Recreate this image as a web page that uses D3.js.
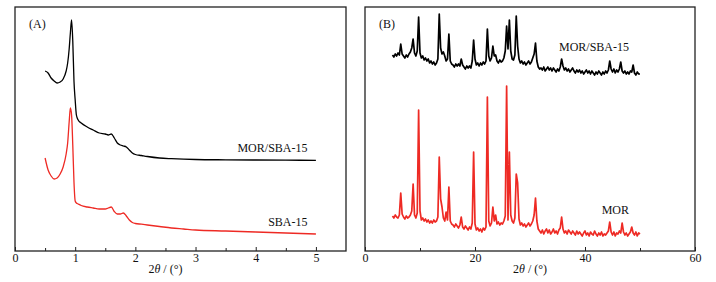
<!DOCTYPE html>
<html>
<head>
<meta charset="utf-8">
<script src="https://cdn.jsdelivr.net/npm/d3@7"></script>
<style>
  body { margin: 0; background: #fff; }
  svg { display: block; }
  text { font-family: "Liberation Serif", "Times New Roman", serif; font-size: 12px; fill: #111; }
  .axis path, .axis line { stroke: #222; }
  .axis text { font-family: "Liberation Serif", "Times New Roman", serif; font-size: 12px; }
</style>
</head>
<body>
<div id="chart"></div>
<script>
// ---- data (A): small-angle XRD, intensity in arbitrary units ----
const angleLow = [0.5, 0.55, 0.6, 0.65, 0.7, 0.75, 0.8, 0.85, 0.875, 0.9, 0.92, 0.94, 0.96, 0.98,
  1.0, 1.02, 1.05, 1.1, 1.2, 1.3, 1.4, 1.5, 1.55, 1.6, 1.65, 1.7, 1.75, 1.8, 1.85, 1.9, 1.95,
  2.0, 2.1, 2.2, 2.4, 2.6, 2.8, 3.0, 3.5, 4.0, 4.5, 5.0];
const lowMorSba = [180, 178, 173, 170, 168, 169, 172, 180, 188, 202, 218, 231, 210, 170,
  151, 136, 131, 128, 124, 121, 118, 117, 116, 117, 113, 108, 106, 105, 104, 101, 98,
  96.5, 95.5, 94.5, 93, 92.3, 91.8, 91.5, 91.2, 91, 90.8, 90.7];
const lowSba = [93, 81, 75, 72, 73, 77, 84, 97, 108, 129, 143, 136, 106, 69,
  50, 48, 47, 45.5, 44, 43, 42, 42, 43, 44, 39.5, 37, 37, 38, 35, 31, 28.5,
  27.5, 26.8, 26, 24.5, 23, 22, 21, 20, 19, 18, 17];

// ---- data (B): wide-angle XRD, 5..50 deg every 0.25 deg ----
const wideStart = 5, wideStep = 0.25;
const wideMor = [
  35, 33, 36, 34,  33, 36, 58, 37,  34, 32, 35, 33,  34, 36, 40, 67,  36, 33, 38, 141,
  40, 31, 33, 30,  32, 29, 31, 28,  30, 28, 31, 29,  30, 34, 94, 52,  44, 33, 30, 39,
  31, 64, 30, 27,  26, 24, 27, 25,  23, 26, 34, 24,  22, 25, 23, 21,  24, 22, 28, 99,
  27, 21, 23, 20,  22, 19, 23, 21,  24, 154, 30, 25, 28, 44, 30, 36,  27, 29, 26, 28,
  27, 30, 35, 165, 31, 99, 36, 30,  28, 33, 77, 68,  32, 26, 28, 25,  27, 24, 26, 28,
  25, 27, 30, 36,  53, 30, 22, 20,  18, 21, 17, 20,  22, 18, 21, 17,  19, 22, 18, 20,
  17, 21, 23, 34,  22, 18, 20, 17,  21, 19, 17, 20,  18, 16, 20, 17,  19, 17, 15, 18,
  20, 16, 18, 15,  19, 17, 16, 20,  17, 15, 18, 16,  19, 15, 17, 16,  18, 20, 29, 19,
  16, 19, 15, 18,  17, 20, 18, 28,  19, 16, 18, 15,  17, 19, 24, 18,  16, 19, 15, 18,
  17];
const wideMorSba = [
  196, 194, 197, 195,  198, 196, 207, 197,  195, 193, 196, 194,  197, 199, 203, 212,  198, 195, 200, 234,
  198, 193, 195, 191,  193, 190, 192, 188,  190, 187, 189, 186,  188, 192, 237, 203,  197, 199, 195, 190,
  192, 217, 190, 187,  186, 184, 187, 185,  187, 185, 192, 186,  184, 182, 185, 183,  185, 183, 190, 211,
  192, 186, 188, 185,  188, 186, 189, 187,  190, 222, 195, 190,  193, 205, 195, 196,  190, 188, 191, 189,
  190, 193, 200, 225,  202, 231, 200, 192,  191, 196, 235, 205,  192, 188, 190, 187,  189, 186, 188, 190,
  187, 189, 193, 197,  208, 190, 184, 182,  183, 181, 184, 180,  182, 184, 181, 183,  180, 183, 181, 179,
  182, 180, 184, 192,  185, 181, 183, 180,  182, 179, 181, 183,  180, 178, 181, 179,  181, 178, 180, 177,
  179, 181, 178, 180,  177, 180, 178, 176,  179, 177, 180, 178,  176, 179, 177, 180,  178, 181, 190, 182,
  179, 182, 178, 181,  179, 182, 189, 180,  178, 180, 177, 179,  177, 180, 179, 186,  178, 176, 179, 177,
  177];

const ticksA = [0, 1, 2, 3, 4, 5];
const ticksB = [0, 20, 40, 60];

const red = "#ee2a24";
const width = 716, height = 282;
const plotTop = 7, plotBottom = 251;

const svg = d3.select("#chart").append("svg")
  .attr("width", width)
  .attr("height", height);

// shared intensity scale (arbitrary units)
const y = d3.scaleLinear().domain([0, 244]).range([plotBottom, plotTop]);

function drawPanel(opt) {
  const x = d3.scaleLinear().domain(opt.domain).range([opt.left, opt.right]);
  const g = svg.append("g");

  // frame
  g.append("rect")
    .attr("x", opt.left).attr("y", plotTop)
    .attr("width", opt.right - opt.left).attr("height", plotBottom - plotTop)
    .attr("fill", "none").attr("stroke", "#222").attr("stroke-width", 1.3);

  // minor ticks
  g.append("g")
    .attr("class", "axis")
    .attr("transform", `translate(0,${plotBottom})`)
    .call(d3.axisBottom(x).tickValues(opt.minor).tickSize(-3).tickSizeOuter(0).tickFormat(""))
    .call(a => a.select(".domain").remove());

  // major ticks + labels
  g.append("g")
    .attr("class", "axis")
    .attr("transform", `translate(0,${plotBottom})`)
    .call(d3.axisBottom(x).tickValues(opt.ticks).tickSize(-4).tickSizeOuter(0)
      .tickPadding(2).tickFormat(d3.format("d")))
    .call(a => a.select(".domain").remove())
    .call(a => a.selectAll("text").attr("fill", "#111"));

  // axis title
  const t = g.append("text")
    .attr("x", x(opt.titleAt)).attr("y", 273)
    .attr("text-anchor", "middle");
  t.append("tspan").text("2");
  t.append("tspan").attr("font-style", "italic").text("θ");
  t.append("tspan").text(" / (°)");

  // panel tag
  g.append("text").attr("x", opt.left + 14).attr("y", 28).text(opt.tag);

  opt.series.forEach(s => {
    const line = d3.line()
      .x((d, i) => x(s.xs[i]))
      .y(d => y(d))
      .curve(s.curve);
    g.append("path")
      .datum(s.ys)
      .attr("fill", "none")
      .attr("stroke", s.color)
      .attr("stroke-width", s.width)
      .attr("stroke-linejoin", "round")
      .attr("d", line);
    g.append("text")
      .attr("x", x(s.label[0])).attr("y", y(s.label[1]))
      .attr("text-anchor", "end")
      .text(s.name);
  });
}

const wideAngles = wideMor.map((d, i) => wideStart + i * wideStep);

drawPanel({
  left: 15, right: 346, domain: [0, 5.5],
  ticks: ticksA, minor: [0.5, 1.5, 2.5, 3.5, 4.5], titleAt: 2.5, tag: "(A)",
  series: [
    { name: "MOR/SBA-15", xs: angleLow, ys: lowMorSba, color: "#000", width: 1.3,
      curve: d3.curveMonotoneX, label: [4.86, 99] },
    { name: "SBA-15", xs: angleLow, ys: lowSba, color: red, width: 1.3,
      curve: d3.curveMonotoneX, label: [4.86, 25] }
  ]
});

drawPanel({
  left: 365, right: 695, domain: [0, 60],
  ticks: ticksB, minor: [10, 30, 50], titleAt: 30, tag: "(B)",
  series: [
    { name: "MOR/SBA-15", xs: wideAngles, ys: wideMorSba, color: "#000", width: 1.7,
      curve: d3.curveLinear, label: [48, 200] },
    { name: "MOR", xs: wideAngles, ys: wideMor, color: red, width: 1.7,
      curve: d3.curveLinear, label: [48, 37] }
  ]
});
</script>
</body>
</html>
